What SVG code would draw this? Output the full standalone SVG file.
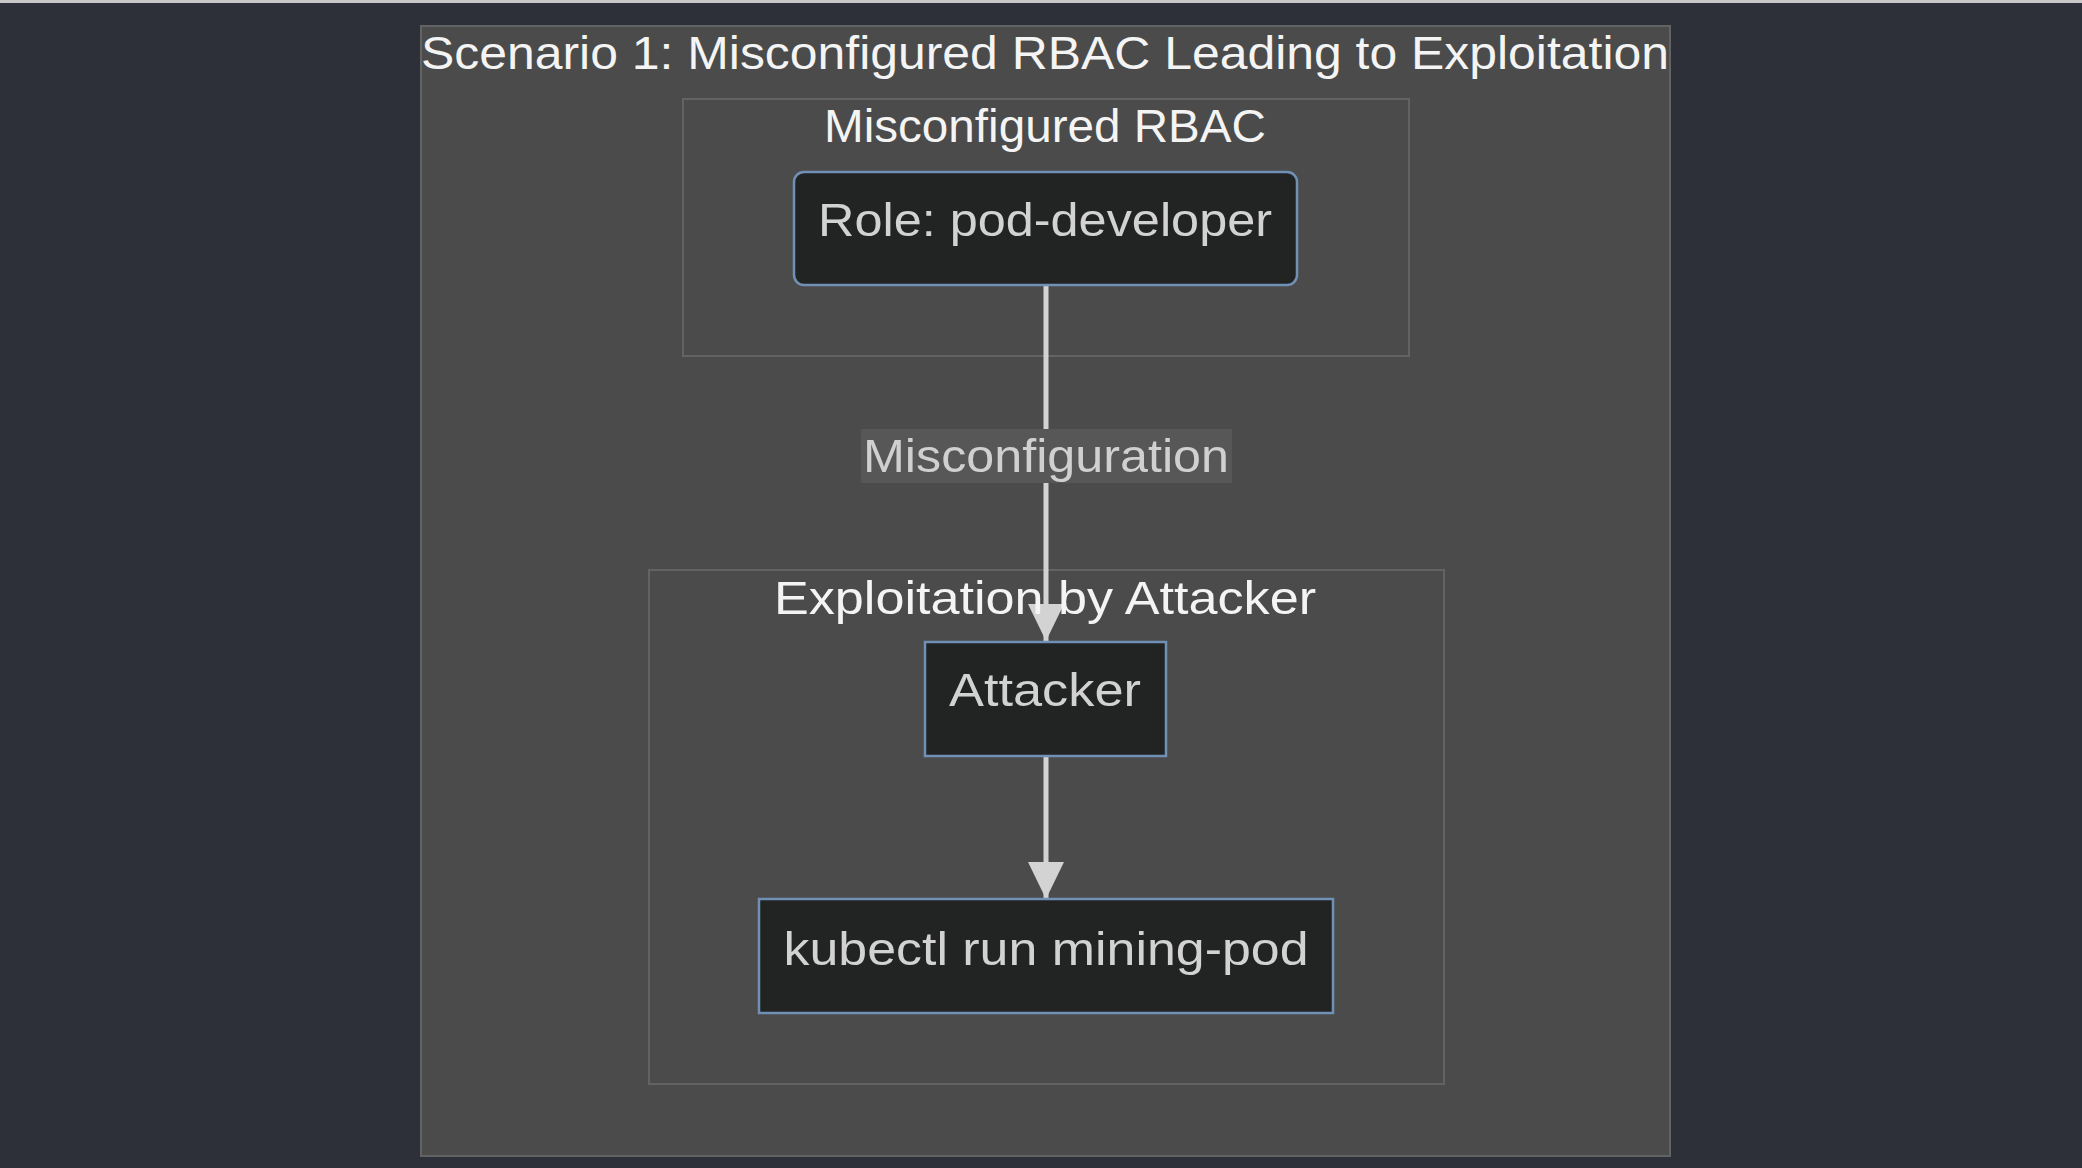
<svg xmlns="http://www.w3.org/2000/svg" width="2082" height="1168" viewBox="0 0 2082 1168">
  <style>
    .cluster { fill: #4a4b4a; stroke: #626363; stroke-width: 2; }
    .node { fill: #222423; stroke: #7190b6; stroke-width: 2.5; }
    .ctitle { font-family: "Liberation Sans", Arial, sans-serif; font-size: 46px; fill: #f4f4f4; text-anchor: middle; }
    .ntext { font-family: "Liberation Sans", Arial, sans-serif; font-size: 46px; fill: #d2d2d2; text-anchor: middle; }
    .edge { stroke: #d3d3d3; stroke-width: 5; fill: none; }
    .elabel-bg { fill: #575757; }
    .elabel { font-family: "Liberation Sans", Arial, sans-serif; font-size: 46px; fill: #d0d0d0; text-anchor: middle; }
  </style>
  <defs>
    <marker id="arrow" markerUnits="userSpaceOnUse" markerWidth="38" markerHeight="36" refX="37" refY="18" orient="auto">
      <path d="M0,0 L37,18 L0,36 Z" fill="#d3d3d3"/>
    </marker>
  </defs>

  <!-- page background -->
  <rect x="0" y="0" width="2082" height="1168" fill="#2d3039"/>
  <rect x="0" y="0" width="2082" height="3" fill="#c9c9c9"/>

  <!-- outer scenario group -->
  <g id="scenario1">
    <rect class="cluster" x="421" y="26" width="1249" height="1130"/>
    <text class="ctitle" x="1045" y="69" textLength="1248" lengthAdjust="spacingAndGlyphs">Scenario 1: Misconfigured RBAC Leading to Exploitation</text>
  </g>

  <!-- sub-group: misconfigured RBAC -->
  <g id="misconfigured-rbac">
    <rect class="cluster" x="683" y="99" width="726" height="257"/>
    <text class="ctitle" x="1045" y="142" textLength="442" lengthAdjust="spacingAndGlyphs">Misconfigured RBAC</text>
  </g>

  <!-- sub-group: exploitation -->
  <g id="exploitation-by-attacker">
    <rect class="cluster" x="649" y="570" width="795" height="514"/>
  </g>

  <!-- connectors -->
  <g id="connectors">
    <path class="edge" d="M1046,285 L1046,641" marker-end="url(#arrow)"/>
    <rect class="elabel-bg" x="861" y="429" width="371" height="54"/>
    <text class="elabel" x="1046" y="472" textLength="366" lengthAdjust="spacingAndGlyphs">Misconfiguration</text>
    <path class="edge" d="M1046,757 L1046,899" marker-end="url(#arrow)"/>
  </g>

  <!-- cluster title drawn over the incoming connector -->
  <text class="ctitle" x="1045" y="614" textLength="542" lengthAdjust="spacingAndGlyphs">Exploitation by Attacker</text>

  <g id="role-pod-developer">
    <rect class="node" x="794" y="172" width="503" height="113" rx="10" ry="10"/>
    <text class="ntext" x="1045" y="236" textLength="454" lengthAdjust="spacingAndGlyphs">Role: pod-developer</text>
  </g>

  <g id="attacker">
    <rect class="node" x="925" y="642" width="241" height="114"/>
    <text class="ntext" x="1045" y="706" textLength="192" lengthAdjust="spacingAndGlyphs">Attacker</text>
  </g>

  <g id="kubectl-run">
    <rect class="node" x="759" y="899" width="574" height="114"/>
    <text class="ntext" x="1046" y="965" textLength="525" lengthAdjust="spacingAndGlyphs">kubectl run mining-pod</text>
  </g>
</svg>
